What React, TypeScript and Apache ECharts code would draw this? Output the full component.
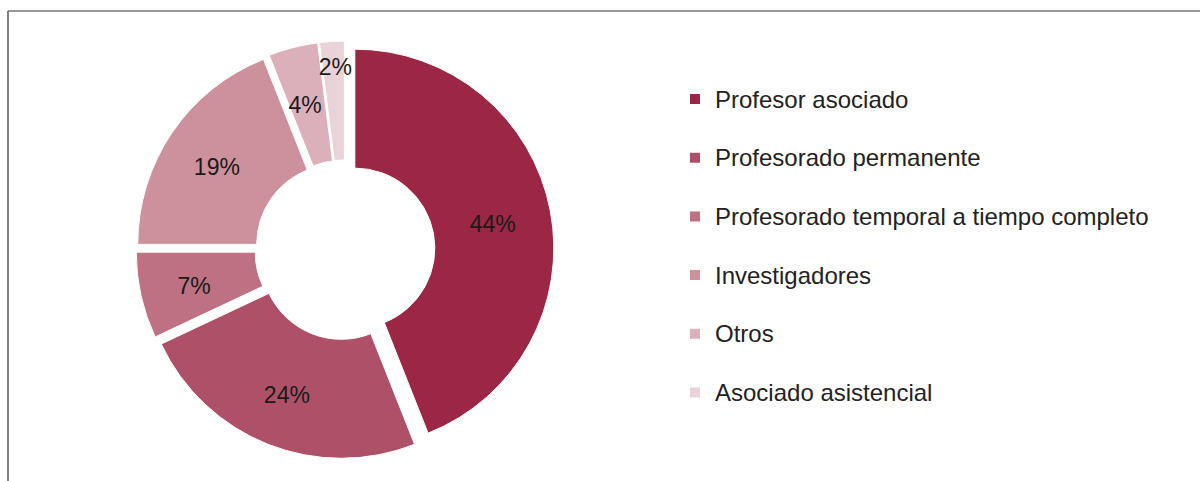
import React, { useEffect, useRef } from "react";
import * as echarts from "echarts";

const categories = [
  "Profesor asociado",
  "Profesorado permanente",
  "Profesorado temporal a tiempo completo",
  "Investigadores",
  "Otros",
  "Asociado asistencial",
];
const values = [44, 24, 7, 19, 4, 2];
const colors = ["#9c2744", "#ae5168", "#bd7183", "#cd919e", "#dcb0ba", "#ead2d9"];

export default function App() {
  const ref = useRef<HTMLDivElement>(null);
  useEffect(() => {
    if (!ref.current) return;
    const chart = echarts.init(ref.current, null, { renderer: "svg" });
    chart.setOption({
      animation: false,
      color: colors,
      graphic: [
        { type: "line", shape: { x1: 8, y1: 11, x2: 1200, y2: 11 }, style: { stroke: "#333", lineWidth: 1.2 } },
        { type: "line", shape: { x1: 8, y1: 11, x2: 8, y2: 481 }, style: { stroke: "#555", lineWidth: 1.5 } },
      ],
      legend: {
        orient: "vertical",
        left: 683,
        top: 80,
        padding: 5,
        icon: "rect",
        itemWidth: 12,
        itemHeight: 12,
        itemGap: 30.7,
        selectedMode: false,
        data: categories,
        textStyle: {
          fontFamily: "Liberation Sans, Arial, sans-serif",
          fontSize: 24,
          lineHeight: 28,
          color: "#222",
          padding: [0, 0, 0, 9],
        },
      },
      series: [
        {
          type: "pie",
          center: [345, 250],
          radius: [80, 199],
          startAngle: 90,
          clockwise: true,
          selectedMode: "multiple",
          selectedOffset: 10,
          emphasis: { disabled: true },
          itemStyle: { borderColor: "#fff", borderWidth: 1 },
          label: {
            show: true,
            position: "inside",
            formatter: "{c}%",
            fontFamily: "Liberation Sans, Arial, sans-serif",
            fontSize: 23,
            color: "#1a1a1a",
          },
          labelLine: { show: false },
          labelLayout: (params: any) => (params.dataIndex === 5 ? { dy: -31 } : { dy: 3, dx: -2 }),
          data: categories.map((name, i) => ({ name, value: values[i], selected: true })),
        },
      ],
    });
    return () => chart.dispose();
  }, []);
  return <div ref={ref} style={{ position: "absolute", left: 0, top: 0, width: 1200, height: 481 }} />;
}
